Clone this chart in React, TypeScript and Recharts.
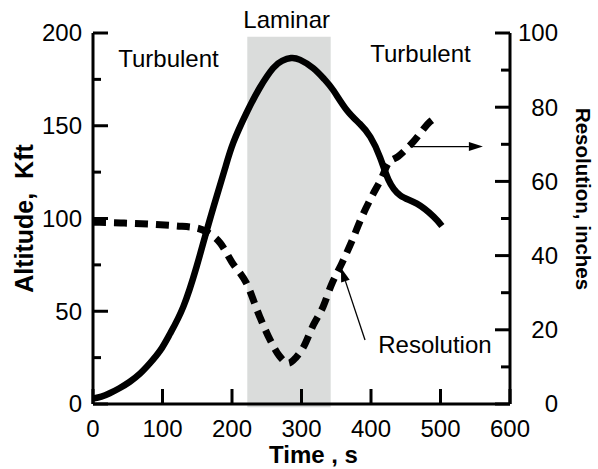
import React from 'react';
import {
  LineChart,
  Line,
  XAxis,
  YAxis,
  ReferenceArea,
  ReferenceLine,
  ReferenceDot,
} from 'recharts';

const FONT = '"Liberation Sans", Arial, Helvetica, sans-serif';

// ---- tick values ----
const timeTicks = [0, 100, 200, 300, 400, 500, 600];
const altitudeTicks = [0, 25, 50, 75, 100, 125, 150, 175, 200];
const resolutionTicks = [0, 10, 20, 30, 40, 50, 60, 70, 80, 90, 100];

// ---- altitude series (Kft) ----
const altitudeTime = [0, 12, 24, 38, 53, 68, 82, 97, 111, 130, 149, 164, 178, 190, 202, 221, 240, 259, 272, 285, 298, 317, 333, 346, 365, 384, 399, 413, 425, 442, 466, 490, 502];
const altitudeValue = [3, 4, 5.8, 8.5, 12, 16.5, 22, 29, 38, 52.5, 74, 94, 112, 127, 141, 157, 170.5, 181, 185, 186.5, 185.5, 181, 175, 169, 158.5, 151, 144, 133, 121, 112.5, 108, 101, 96];

// ---- resolution series (inches) ----
const resolutionTime = [0, 40, 80, 120, 150, 165, 183, 200, 221, 240, 255, 268, 281, 292, 303, 317, 331, 343, 358, 372, 387, 401, 415, 425, 439, 461, 485, 495];
const resolutionValue = [49, 48.8, 48.5, 48, 47.4, 46.2, 43.4, 38.2, 32.5, 23.5, 17.2, 13, 11, 12.5, 15.4, 21.3, 26.2, 32.1, 37.9, 43.7, 50.5, 55.9, 60.8, 64.9, 66.7, 70.7, 76.1, 77.5];

// ---- annotations (data units) ----
const laminarStart = 222;
const laminarEnd = 342;
const laminarTop = 198;
const noteTexts = ['Laminar', 'Turbulent', 'Turbulent', 'Resolution'];
const noteTime = [278.7, 108.6, 471.2, 492];
const noteAltitude = [202.7, 181.9, 184.5, 27.3];
const arrowFromTime = [456, 391.4];
const arrowFromRes = [69.4, 17.25];
const arrowToTime = [561, 356.8];
const arrowToRes = [69.4, 36.7];

const altitudeData = altitudeTime.map((t, i) => ({ t, v: altitudeValue[i] }));
const resolutionData = resolutionTime.map((t, i) => ({ t, v: resolutionValue[i] }));

const BottomTick = (props: any) => {
  const { x, y, payload } = props;
  return (
    <g>
      <line x1={x} y1={y} x2={x} y2={y - 15} stroke="#000" strokeWidth={3} />
      <text x={x} y={y + 33} textAnchor="middle" fontSize={24} fontFamily={FONT} fill="#000">
        {payload.value}
      </text>
    </g>
  );
};

const LeftTick = (props: any) => {
  const { x, y, payload } = props;
  const major = payload.value % 50 === 0;
  return (
    <g>
      <line x1={x} y1={y} x2={x + (major ? 15 : 8)} y2={y} stroke="#000" strokeWidth={3} />
      {major && (
        <text x={x - 11} y={y + 8.3} textAnchor="end" fontSize={24} fontFamily={FONT} fill="#000">
          {payload.value}
        </text>
      )}
    </g>
  );
};

const RightTick = (props: any) => {
  const { x, y, payload } = props;
  const major = payload.value % 20 === 0;
  return (
    <g>
      <line x1={x} y1={y} x2={x - (major ? 15 : 9)} y2={y} stroke="#000" strokeWidth={3} />
      {major && (
        <text x={x + 48} y={y + 8.3} textAnchor="end" fontSize={24} fontFamily={FONT} fill="#000">
          {payload.value}
        </text>
      )}
    </g>
  );
};

const ArrowShape = (props: any) => {
  const { x1, y1, x2, y2 } = props;
  const ang = Math.atan2(y2 - y1, x2 - x1);
  const L = 14;
  const W = 4.5;
  const bx = x2 - L * Math.cos(ang);
  const by = y2 - L * Math.sin(ang);
  const px = -Math.sin(ang) * W;
  const py = Math.cos(ang) * W;
  return (
    <g>
      <line x1={x1} y1={y1} x2={bx} y2={by} stroke="#000" strokeWidth={1.3} />
      <polygon points={`${x2},${y2} ${bx + px},${by + py} ${bx - px},${by - py}`} fill="#000" />
    </g>
  );
};

const makeNote = (text: string) => (props: any) => (
  <text x={props.cx} y={props.cy} textAnchor="middle" fontSize={24} fontFamily={FONT} fill="#000">
    {text}
  </text>
);

const timeLabel = (props: any) => {
  const vb = props.viewBox || { x: 93, y: 404, width: 417, height: 65 };
  return (
    <text x={vb.x + vb.width / 2 + 12} y={vb.y + 59} textAnchor="middle" fontSize={24} fontWeight="bold" fontFamily={FONT} fill="#000">
      Time , s
    </text>
  );
};

const altitudeLabel = (props: any) => {
  const vb = props.viewBox || { x: 0, y: 33, width: 93, height: 371 };
  const cx = 23.5;
  const cy = vb.y + vb.height / 2;
  return (
    <text x={cx} y={cy} transform={`rotate(-90, ${cx}, ${cy})`} textAnchor="middle" dominantBaseline="central" fontSize={25} fontWeight="bold" fontFamily={FONT} fill="#000" style={{ whiteSpace: 'pre' }}>
      {'Altitude,  Kft'}
    </text>
  );
};

const resolutionLabel = (props: any) => {
  const vb = props.viewBox || { x: 510, y: 33, width: 88, height: 371 };
  const cx = 583;
  const cy = vb.y + vb.height / 2 - 19.5;
  return (
    <text x={cx} y={cy} transform={`rotate(90, ${cx}, ${cy})`} textAnchor="middle" dominantBaseline="central" fontSize={20.5} fontWeight="bold" fontFamily={FONT} fill="#000">
      Resolution, inches
    </text>
  );
};

export default function App() {
  return (
    <div style={{ position: 'absolute', left: 0, top: 0, width: 598, height: 469, background: '#fff' }}>
      <LineChart width={598} height={469} margin={{ top: 33, right: 0, bottom: 0, left: 0 }}>
        <ReferenceArea
          x1={laminarStart}
          x2={laminarEnd}
          y1={-1.8}
          y2={laminarTop}
          yAxisId="left"
          fill="#dadcdb"
          fillOpacity={1}
          stroke="none"
          ifOverflow="visible"
        />
        <XAxis
          dataKey="t"
          type="number"
          domain={[0, 600]}
          ticks={timeTicks}
          interval={0}
          height={65}
          tickLine={false}
          tickSize={0}
          tickMargin={0}
          tick={BottomTick}
          axisLine={{ stroke: '#000', strokeWidth: 3 }}
          label={{ content: timeLabel }}
          allowDataOverflow
        />
        <YAxis
          yAxisId="left"
          type="number"
          domain={[0, 200]}
          ticks={altitudeTicks}
          interval={0}
          width={93}
          tickLine={false}
          tickSize={0}
          tickMargin={0}
          tick={LeftTick}
          axisLine={{ stroke: '#000', strokeWidth: 3 }}
          label={{ content: altitudeLabel }}
          allowDataOverflow
        />
        <YAxis
          yAxisId="right"
          orientation="right"
          type="number"
          domain={[0, 100]}
          ticks={resolutionTicks}
          interval={0}
          width={88}
          tickLine={false}
          tickSize={0}
          tickMargin={0}
          tick={RightTick}
          axisLine={{ stroke: '#000', strokeWidth: 3 }}
          label={{ content: resolutionLabel }}
          allowDataOverflow
        />
        <Line
          yAxisId="right"
          data={resolutionData}
          dataKey="v"
          type="monotone"
          stroke="#000"
          strokeWidth={7}
          strokeDasharray="13 8"
          dot={false}
          activeDot={false}
          isAnimationActive={false}
        />
        <Line
          yAxisId="left"
          data={altitudeData}
          dataKey="v"
          type="natural"
          stroke="#000"
          strokeWidth={6.5}
          dot={false}
          activeDot={false}
          isAnimationActive={false}
        />
        {arrowFromTime.map((t, i) => (
          <ReferenceLine
            key={`arrow-${i}`}
            yAxisId="right"
            segment={[
              { x: t, y: arrowFromRes[i] },
              { x: arrowToTime[i], y: arrowToRes[i] },
            ]}
            shape={ArrowShape}
            ifOverflow="visible"
          />
        ))}
        {noteTexts.map((txt, i) => (
          <ReferenceDot
            key={`note-${i}`}
            yAxisId="left"
            x={noteTime[i]}
            y={noteAltitude[i]}
            r={1}
            shape={makeNote(txt)}
            ifOverflow="visible"
          />
        ))}
      </LineChart>
    </div>
  );
}
